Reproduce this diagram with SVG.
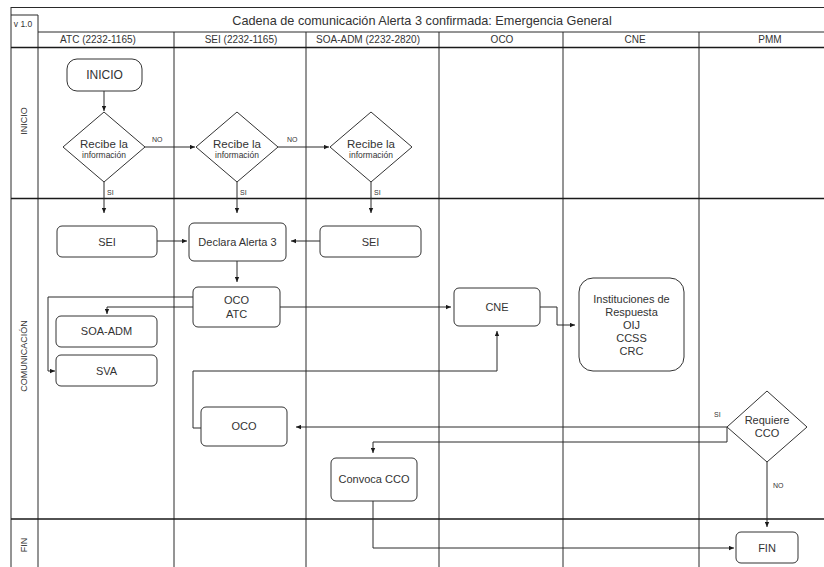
<svg xmlns="http://www.w3.org/2000/svg" width="824" height="567" viewBox="0 0 824 567">
<style>
text{font-family:"Liberation Sans",Arial,sans-serif;fill:#333;text-anchor:middle}
.lane{stroke:#2a2a2a;stroke-width:1;fill:none}
.sep{stroke:#1a1a1a;stroke-width:1.4;fill:none}
.box{fill:#fff;stroke:#333;stroke-width:1}
.c{fill:none;stroke:#2a2a2a;stroke-width:1}
.a{marker-end:url(#arr)}
.t{font-size:11px}
.h{font-size:10px}
.s{font-size:7px;text-anchor:start}
.r{font-size:9px}
</style>
<defs>
<marker id="arr" viewBox="0 0 6 6" refX="6" refY="3" markerWidth="5" markerHeight="5" orient="auto" markerUnits="userSpaceOnUse">
<path d="M0,0.4 L6,3 L0,5.6 z" fill="#1a1a1a"/>
</marker>
</defs>
<rect width="824" height="567" fill="#fff"/>

<g id="pool">
<path class="lane" d="M11,7.5 H824 M11,15 H38 M38,32 H824 M11,7 V567 M38,15 V567 M174,32 V567 M306,32 V567 M439,32 V567 M563,32 V567 M699,32 V567"/>
<path class="sep" d="M11,47.5 H824 M11,198.5 H824 M11,519 H824"/>
<text x="23" y="27" style="font-size:8.5px">v 1.0</text>
<text x="422" y="24.5" style="font-size:12.7px">Cadena de comunicación Alerta 3 confirmada: Emergencia General</text>
<text class="h" x="98" y="43">ATC (2232-1165)</text>
<text class="h" x="241" y="43">SEI (2232-1165)</text>
<text class="h" x="368" y="43">SOA-ADM (2232-2820)</text>
<text class="h" x="502" y="43">OCO</text>
<text class="h" x="635" y="43">CNE</text>
<text class="h" x="770" y="43">PMM</text>
<text class="r" transform="translate(27,121) rotate(-90)">INICIO</text>
<text class="r" transform="translate(27,356) rotate(-90)">COMUNICACIÓN</text>
<text class="r" transform="translate(27,545) rotate(-90)">FIN</text>
</g>

<g id="connectors">
<path class="c a" d="M104,91 V111"/>
<path class="c a" d="M145,147 H195"/>
<path class="c a" d="M278,147 H329"/>
<path class="c a" d="M104,182 V213"/>
<path class="c a" d="M237,182 V213"/>
<path class="c a" d="M371,182 V213"/>
<path class="c a" d="M157,241 H187"/>
<path class="c a" d="M320,241 H291"/>
<path class="c a" d="M237,261 V282"/>
<path class="c a" d="M193,297 H48 V371 H55"/>
<path class="c a" d="M193,307 H107 V314"/>
<path class="c a" d="M280,307 H451"/>
<path class="c a" d="M540,307 H557 V325 H575"/>
<path class="c a" d="M201,428 H193 V371 H497 V331"/>
<path class="c a" d="M727,427 H296"/>
<path class="c a" d="M727,427 V442 H373 V453"/>
<path class="c a" d="M767,462 V527"/>
<path class="c a" d="M373,501 V548 H734"/>
<text class="s" x="152" y="142">NO</text>
<text class="s" x="287" y="142">NO</text>
<text class="s" x="107" y="195">SI</text>
<text class="s" x="240" y="195">SI</text>
<text class="s" x="374" y="195">SI</text>
<text class="s" x="714" y="417">SI</text>
<text class="s" x="773" y="488">NO</text>
</g>

<g id="inicio">
<rect class="box" x="67" y="59" width="75" height="32" rx="10"/>
<text x="104.5" y="79" style="font-size:12px">INICIO</text>
</g>
<g id="d1">
<polygon class="box" points="104,112 145,147 104,182 63,147"/>
<text x="104" y="148" style="font-size:11.5px">Recibe la</text>
<text x="104" y="158" style="font-size:8.5px">información</text>
</g>
<g id="d2">
<polygon class="box" points="237,112 278,147 237,182 196,147"/>
<text x="237" y="148" style="font-size:11.5px">Recibe la</text>
<text x="237" y="158" style="font-size:8.5px">información</text>
</g>
<g id="d3">
<polygon class="box" points="371,112 412,147 371,182 330,147"/>
<text x="371" y="148" style="font-size:11.5px">Recibe la</text>
<text x="371" y="158" style="font-size:8.5px">información</text>
</g>
<g id="sei1">
<rect class="box" x="57" y="226" width="100" height="31" rx="5"/>
<text class="t" x="107" y="245.5">SEI</text>
</g>
<g id="declara">
<rect class="box" x="189" y="223" width="97" height="38" rx="5"/>
<text class="t" x="237.5" y="246">Declara Alerta 3</text>
</g>
<g id="sei2">
<rect class="box" x="320" y="226" width="101" height="31" rx="5"/>
<text class="t" x="370.5" y="245.5">SEI</text>
</g>
<g id="ocoatc">
<rect class="box" x="193" y="287" width="87" height="40" rx="5"/>
<text class="t" x="236.5" y="304">OCO</text>
<text class="t" x="236.5" y="318">ATC</text>
</g>
<g id="soaadm">
<rect class="box" x="56" y="316" width="101" height="31" rx="5"/>
<text class="t" x="106.5" y="335">SOA-ADM</text>
</g>
<g id="sva">
<rect class="box" x="56" y="355" width="101" height="31" rx="5"/>
<text class="t" x="106.5" y="374.5">SVA</text>
</g>
<g id="cne">
<rect class="box" x="454" y="288" width="86" height="38" rx="5"/>
<text class="t" x="497" y="311">CNE</text>
</g>
<g id="instituciones">
<rect class="box" x="579" y="278" width="105" height="93" rx="14"/>
<text class="t" x="631.5" y="303">Instituciones de</text>
<text class="t" x="631.5" y="316">Respuesta</text>
<text class="t" x="631.5" y="329">OIJ</text>
<text class="t" x="631.5" y="342">CCSS</text>
<text class="t" x="631.5" y="355">CRC</text>
</g>
<g id="oco">
<rect class="box" x="201" y="407" width="86" height="39" rx="5"/>
<text class="t" x="244" y="430">OCO</text>
</g>
<g id="requiere">
<polygon class="box" points="767,391 807,427 767,462 727,427"/>
<text class="t" x="767" y="424">Requiere</text>
<text class="t" x="767" y="437">CCO</text>
</g>
<g id="convoca">
<rect class="box" x="331" y="458" width="86" height="43" rx="5"/>
<text class="t" x="374" y="483">Convoca CCO</text>
</g>
<g id="fin">
<rect class="box" x="736" y="532" width="62" height="31" rx="5"/>
<text class="t" x="767" y="551.5">FIN</text>
</g>
</svg>
